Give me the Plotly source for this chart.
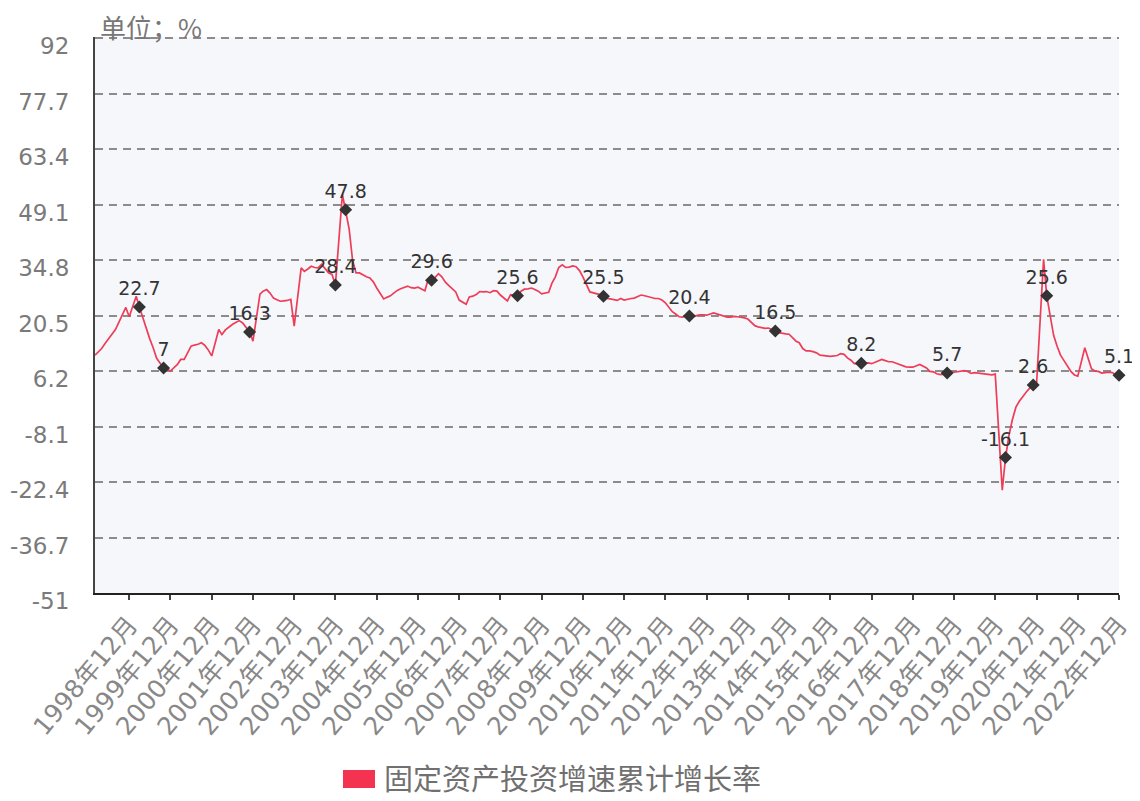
import plotly.graph_objects as go

# ---------------- data (Feb..Dec of each year; January not published) ----------------
months = [2, 3, 4, 5, 6, 7, 8, 9, 10, 11, 12]

g1998 = [10.3, 11.0, 12.0, 13.3, 14.6, 15.6, 16.9, 18.8, 20.5, 22.6, 20.2]
g1999 = [25.5, 22.7, 19.9, 17.0, 14.5, 12.2, 9.5, 8.2, 7.0, 6.7, 6.2]
g2000 = [7.9, 9.2, 9.2, 11.0, 12.6, 12.9, 13.1, 13.5, 12.8, 11.6, 10.1]
g2001 = [16.9, 15.6, 16.8, 17.6, 18.2, 18.7, 19.2, 18.6, 17.6, 16.3, 13.9]
g2002 = [26.0, 26.8, 27.2, 26.3, 25.0, 24.6, 24.2, 24.3, 24.4, 24.7, 17.8]
g2003 = [32.8, 31.9, 32.5, 33.2, 32.9, 32.8, 33.7, 32.6, 31.5, 31.1, 28.4]
g2004 = [51.7, 47.8, 42.8, 34.8, 31.5, 31.5, 30.9, 30.5, 30.2, 29.2, 27.6]
g2005 = [24.8, 25.2, 25.6, 26.3, 27.0, 27.4, 27.8, 28.1, 27.7, 27.6, 27.8]
g2006 = [26.9, 29.8, 29.6, 30.3, 31.3, 30.5, 29.1, 28.2, 27.3, 26.6, 24.5]
g2007 = [23.4, 25.3, 25.5, 25.9, 26.7, 26.6, 26.7, 26.4, 26.9, 26.8, 25.8]
g2008 = [24.3, 25.9, 25.7, 25.6, 26.8, 27.3, 27.4, 27.6, 27.2, 26.8, 26.1]
g2009 = [26.5, 28.8, 30.5, 32.9, 33.6, 32.9, 33.0, 33.3, 33.1, 32.1, 30.5]
g2010 = [26.6, 26.4, 26.1, 25.9, 25.5, 24.9, 24.8, 24.5, 24.4, 24.9, 24.5]
g2011 = [24.9, 25.0, 25.4, 25.8, 25.6, 25.4, 25.0, 24.9, 24.9, 24.5, 23.8]
g2012 = [21.5, 20.9, 20.2, 20.1, 20.4, 20.4, 20.2, 20.5, 20.7, 20.7, 20.6]
g2013 = [21.2, 20.9, 20.6, 20.4, 20.1, 20.1, 20.3, 20.2, 20.1, 19.9, 19.6]
g2014 = [17.9, 17.6, 17.3, 17.2, 17.3, 17.0, 16.5, 16.1, 15.9, 15.8, 15.7]
g2015 = [13.9, 13.5, 12.0, 11.4, 11.4, 11.2, 10.9, 10.3, 10.2, 10.2, 10.0]
g2016 = [10.2, 10.7, 10.5, 9.6, 9.0, 8.1, 8.1, 8.2, 8.3, 8.3, 8.1]
g2017 = [8.9, 9.2, 8.9, 8.6, 8.6, 8.3, 7.8, 7.5, 7.3, 7.2, 7.2]
g2018 = [7.9, 7.5, 7.0, 6.1, 6.0, 5.5, 5.3, 5.4, 5.7, 5.9, 5.9]
g2019 = [6.1, 6.3, 6.1, 5.6, 5.8, 5.7, 5.5, 5.4, 5.2, 5.2, 5.4]
g2020 = [-24.5, -16.1, -10.3, -6.3, -3.1, -1.6, -0.3, 0.8, 1.8, 2.6, 2.9]
g2021 = [35.0, 25.6, 19.9, 15.4, 12.6, 10.3, 8.9, 7.3, 6.1, 5.2, 4.9]
g2022 = [12.2, 9.3, 6.8, 6.2, 6.1, 5.7, 5.8, 5.9, 5.8, 5.3, 5.1]

years = list(range(1998, 2023))
series_by_year = [g1998, g1999, g2000, g2001, g2002, g2003, g2004, g2005, g2006,
                  g2007, g2008, g2009, g2010, g2011, g2012, g2013, g2014, g2015,
                  g2016, g2017, g2018, g2019, g2020, g2021, g2022]

# points that carry a marker and a value label
label_points = ["1999-03", "1999-10", "2001-11", "2003-12", "2004-03", "2006-04",
                "2008-05", "2010-06", "2012-07", "2014-08", "2016-09", "2018-10",
                "2020-03", "2020-11", "2021-03", "2022-12"]

tick_labels = [f"{y}年12月" for y in years]
y_ticks = [92, 77.7, 63.4, 49.1, 34.8, 20.5, 6.2, -8.1, -22.4, -36.7, -51]

series_name = "固定资产投资增速累计增长率"
unit_text = "单位；%"

# ---------------- build ----------------
dates, values = [], []
for y, vals in zip(years, series_by_year):
    for m, v in zip(months, vals):
        dates.append(f"{y}-{m:02d}-01")
        values.append(v)

lookup = dict(zip([d[:7] for d in dates], values))
lab_x = [p + "-01" for p in label_points]
lab_y = [lookup[p] for p in label_points]
lab_t = [f"{v:g}" for v in lab_y]

LINE = "#ee3d58"
LEG = "#f43350"
NUMFONT = "DejaVu Sans, Noto Sans CJK SC"
CJK = "Noto Sans CJK SC, DejaVu Sans"

# the page body has an 8px margin, so the figure is drawn 8px in from the window
OFF = 8
W, H = 1140 - OFF, 801 - OFF
ML, MR, MT, MB = 95 - OFF, 21, 37 - OFF, 208
PW, PH = W - ML - MR, H - MT - MB


def px_x(p):  # window pixel -> paper x
    return (p - OFF - ML) / PW


def px_y(p):  # window pixel -> paper y
    return (H - MB - (p - OFF)) / PH


fig = go.Figure()
fig.add_trace(go.Scatter(x=dates, y=values, mode="lines",
                         line=dict(color=LINE, width=1.7),
                         showlegend=False, hoverinfo="skip"))
fig.add_trace(go.Scatter(x=lab_x, y=lab_y, mode="markers+text",
                         marker=dict(symbol="diamond", size=10, color="#333333"),
                         text=lab_t, textposition="top center",
                         textfont=dict(size=19, color="#333333", family=NUMFONT),
                         cliponaxis=False, showlegend=False, hoverinfo="skip"))

fig.update_layout(
    width=W, height=H,
    margin=dict(l=ML, r=MR, t=MT, b=MB),
    paper_bgcolor="white", plot_bgcolor="#f6f7fb",
    font=dict(family=CJK, color="#666666"),
    showlegend=False,
    xaxis=dict(type="date", range=["1998-02-01", "2022-12-01"], automargin=False,
               tickvals=[f"{y}-12-01" for y in years], ticktext=tick_labels,
               tickangle=-50, tickfont=dict(size=25, color="#888888", family=NUMFONT),
               showgrid=False, zeroline=False,
               showline=True, linecolor="#222222", linewidth=2,
               ticks="outside", ticklen=5, tickwidth=1.5, tickcolor="#444444"),
    yaxis=dict(range=[-51, 92.3], automargin=False,
               tickvals=y_ticks, ticktext=[f"{v:g}" for v in y_ticks],
               tickfont=dict(size=23, color="#7a7a7a", family=NUMFONT),
               showgrid=True, gridcolor="#8c8c8c", gridwidth=1.5, griddash="8px,6px",
               zeroline=False, showline=True, linecolor="#444444", linewidth=2,
               ticks="", ticklabelshift=8, ticklabelstandoff=19),
    shapes=[dict(type="rect", xref="paper", yref="paper",
                 x0=px_x(343), x1=px_x(375), y0=px_y(788), y1=px_y(770),
                 fillcolor=LEG, line=dict(width=0))],
    annotations=[
        dict(text=unit_text, xref="paper", yref="paper", x=px_x(98), y=px_y(27),
             xanchor="left", yanchor="middle", showarrow=False,
             font=dict(size=26, color="#777777", family=CJK)),
        dict(text=series_name, xref="paper", yref="paper", x=px_x(382), y=px_y(777),
             xanchor="left", yanchor="middle", showarrow=False,
             font=dict(size=29, color="#707070", family=CJK)),
    ],
)

fig.write_html("out.html")
